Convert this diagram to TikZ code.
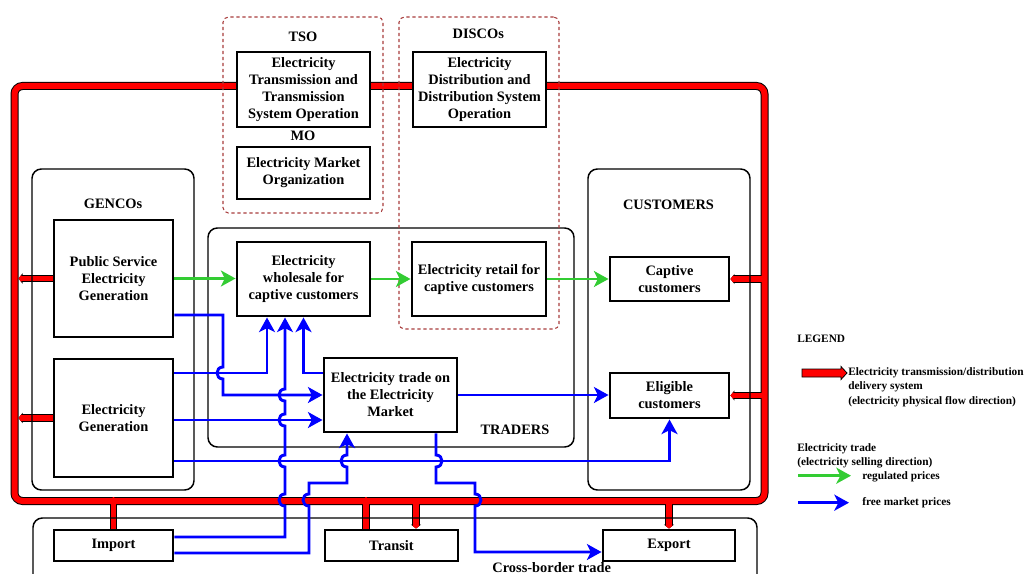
\documentclass[tikz,border=0pt]{standalone}
\usepackage{fontspec}
\setmainfont{Liberation Serif}
\usetikzlibrary{arrows.meta,calc}
\pgfdeclarelayer{redback}
\pgfdeclarelayer{redfront}
\pgfsetlayers{redback,redfront,main}
\definecolor{myblue}{HTML}{0000FF}
\definecolor{mygreen}{HTML}{33CC33}
\definecolor{myred}{HTML}{FF0000}
\definecolor{dashred}{HTML}{A83C3C}
\newcommand\hopUp[2]{-- (#1,#2+6) .. controls (#1-8,#2+6) and (#1-8,#2-6) .. (#1,#2-6)}
\newcommand\hopDownL[2]{-- (#1,#2-6) .. controls (#1-8,#2-6) and (#1-8,#2+6) .. (#1,#2+6)}
\newcommand\hopDownR[2]{-- (#1,#2-6) .. controls (#1+8,#2-6) and (#1+8,#2+6) .. (#1,#2+6)}
% \bx[style]{name}{x1}{y1}{x2}{y2}{text}  (pixel coordinates)
\newcommand\bx[7][box]{\node[#1, minimum width={(#5-#3)*0.75pt}, minimum height={(#6-#4)*0.75pt}] (#2) at ({(#3+#5)/2},{(#4+#6)/2}) {#7};}
\begin{document}
\begin{tikzpicture}[x=0.75pt,y=-0.75pt,
  mainfont/.style={font=\bfseries\fontsize{10.8}{12.75}\selectfont},
  box/.style={draw, line width=2.2pt, fill=white, inner sep=0pt, align=center, mainfont},
  grp/.style={draw, line width=1.1pt, rounded corners=7pt, inner sep=0pt},
  dgrp/.style={draw=dashred, line width=0.8pt, dash pattern=on 2.5pt off 2pt, rounded corners=4pt, inner sep=0pt},
  lab/.style={mainfont, inner sep=0pt},
  leg/.style={font=\bfseries\fontsize{8.5}{11.25}\selectfont, inner sep=0pt, anchor=base west},
  headstyle/.style={-{Stealth[length=11pt,width=12pt,inset=3pt]}},
  bluearrow/.style={draw=myblue, line width=2.2pt, headstyle},
  greenarrow/.style={draw=mygreen, line width=2.2pt, headstyle},
  redout/.style={draw=black, line width=5.4pt},
  redin/.style={draw=myred, line width=3.9pt},
  frameout/.style={draw=black, line width=6pt, rounded corners=6pt},
  framein/.style={draw=myred, line width=4.5pt, rounded corners=6pt},
  tipout/.style={-{Triangle[length=3pt,width=7.5pt]}},
  tipin/.style={-{Triangle[length=2.2pt,width=5.6pt]}}]
\useasboundingbox (0,0) rectangle (1025,574);

% group frames
\bx[grp]{gencos}{32}{169}{194}{490}{}
\bx[grp]{traders}{208}{228}{574}{447}{}
\bx[grp]{customers}{588}{169}{750}{490}{}
\bx[grp]{cross}{33}{518}{757}{600}{}
\bx[dgrp]{tsogrp}{223}{17}{383}{213}{}
\bx[dgrp]{discogrp}{399}{17}{559}{329}{}

% labels
\node[lab] (tsolab) at (303,36.7) {TSO};
\node[lab] (molab) at (303,136.2) {MO};
\node[lab] (discolab) at (478.3,33.7) {DISCOs};
\node[lab] (gencolab) at (113,204) {GENCOs};
\node[lab] (custlab) at (668.5,204.5) {CUSTOMERS};
\node[lab] (tradlab) at (515,430) {TRADERS};
\node[lab, anchor=base] (crosslab) at (551.7,572.6) {Cross-border trade};

% boxes
\bx{tso}{237}{52}{370}{127}{Electricity\\Transmission and\\Transmission\\System Operation}
\bx{mo}{237}{147}{370}{199}{Electricity Market\\Organization}
\bx{disco}{413}{52}{546}{127}{Electricity\\Distribution and\\Distribution System\\Operation}
\bx{pseg}{54}{220}{173}{337}{Public Service\\Electricity\\Generation}
\bx{eg}{54}{359}{173}{477}{Electricity\\Generation}
\bx{whole}{237}{242}{370}{316}{Electricity\\wholesale for\\captive customers}
\bx{retail}{412}{242}{546}{316}{Electricity retail for\\captive customers}
\bx{market}{324}{358}{457}{432}{Electricity trade on\\the Electricity\\Market}
\bx{captive}{610}{257}{729}{301}{Captive\\customers}
\bx{eligible}{610}{373}{729}{418}{Eligible\\customers}
\bx{import}{54}{530}{173}{561}{Import}
\bx{transit}{325}{530}{458}{561}{Transit}
\bx{export}{603}{530}{735}{561}{Export}

% red delivery system
\coordinate (frL) at (18.5,0);
\coordinate (frR) at (764.5,0);
\coordinate (frB) at (0,501);
\coordinate (frBi) at (0,497);
\coordinate (tu) at ($(transit.north)+(-25.5,0)$);
\coordinate (td) at ($(transit.north)+(24.5,0)$);
\begin{pgfonlayer}{redback}
\draw[frameout] (14.5,86) rectangle (764.5,501);
\draw[redout,tipout] (pseg.west) -- (pseg.west -| frL);
\draw[redout,tipout] (eg.west) -- (eg.west -| frL);
\draw[redout,tipout] (captive.east -| frR) -- (captive.east);
\draw[redout,tipout] (eligible.east -| frR) -- (eligible.east);
\draw[redout,tipout] (import.north) -- (import.north |- frBi);
\draw[redout,tipout] (tu) -- (tu |- frBi);
\draw[redout,tipout] (td |- frB) -- (td);
\draw[redout,tipout] (export.north |- frB) -- (export.north);
\end{pgfonlayer}
\begin{pgfonlayer}{redfront}
\draw[framein] (14.5,86) rectangle (764.5,501);
\draw[redin,tipin] (pseg.west) -- (pseg.west -| frL);
\draw[redin,tipin] (eg.west) -- (eg.west -| frL);
\draw[redin,tipin] (captive.east -| frR) -- (captive.east);
\draw[redin,tipin] (eligible.east -| frR) -- (eligible.east);
\draw[redin,tipin] (import.north) -- (import.north |- frBi);
\draw[redin,tipin] (tu) -- (tu |- frBi);
\draw[redin,tipin] (td |- frB) -- (td);
\draw[redin,tipin] (export.north |- frB) -- (export.north);
\end{pgfonlayer}

% regulated trade (green)
\draw[greenarrow] (pseg.east) -- (pseg.east -| whole.west);
\draw[greenarrow] (whole.east) -- (retail.west);
\draw[greenarrow] (retail.east) -- (retail.east -| captive.west);

% free market trade (blue)
\draw[bluearrow] ($(pseg.east)+(0,36.5)$) -- (223,315) \hopDownL{223}{373} -- (223,395) -- (market.west);
\draw[bluearrow] ($(eg.east)+(0,-45)$) -- (267,373) -- ($(whole.south)+(-36.5,0)$);
\draw[bluearrow] ($(import.east)+(0,-8.5)$) -- (285,537) \hopUp{285}{500} \hopUp{285}{461} \hopUp{285}{420} \hopUp{285}{395} -- ($(whole.south)+(-18.5,0)$);
\draw[bluearrow] ($(market.west)+(0,-22)$) -- (303.5,373) -- (whole.south);
\draw[bluearrow] ($(eg.east)+(0,2)$) -- ($(market.west)+(0,25)$);
\draw[bluearrow] ($(eg.east)+(0,43)$) -- (669.5,461) -- (eligible.south);
\draw[bluearrow] ($(import.east)+(0,7.5)$) -- (309,553) \hopUp{309}{500} -- (309,483) -- (347,483) \hopUp{347}{461} -- ($(market.south)+(-43.5,0)$);
\draw[bluearrow] (market.east) -- (market.east -| eligible.west);
\draw[bluearrow] ($(market.south)+(45.5,0)$) \hopDownR{436}{461} -- (436,483) -- (475,483) \hopDownR{475}{500} -- (475,552) -- ($(export.west)+(0,6.5)$);

% legend
\node[leg] (legtitle) at (797,342.7) {LEGEND};
\draw[fill=myred, draw=black, line width=0.6pt] (802,369) -- (841,369) -- (841,366.5) -- (847,373) -- (841,379.5) -- (841,377) -- (802,377) -- cycle;
\node[leg] (legr1) at (848,375) {Electricity transmission/distribution};
\node[leg] (legr2) at (848,389.5) {delivery system};
\node[leg] (legr3) at (848,404) {(electricity physical flow direction)};
\node[leg] (legt1) at (797,451.5) {Electricity trade};
\node[leg] (legt2) at (797,465.5) {(electricity selling direction)};
\coordinate (lgA) at (798,475.7);
\coordinate (lgB) at (851,475.7);
\coordinate (lbA) at (798,502.7);
\coordinate (lbB) at (849,502.7);
\draw[greenarrow] (lgA) -- (lgB);
\draw[bluearrow] (lbA) -- (lbB);
\node[leg] (legg) at (862,479) {regulated prices};
\node[leg] (legb) at (862,505.5) {free market prices};
\end{tikzpicture}
\end{document}
